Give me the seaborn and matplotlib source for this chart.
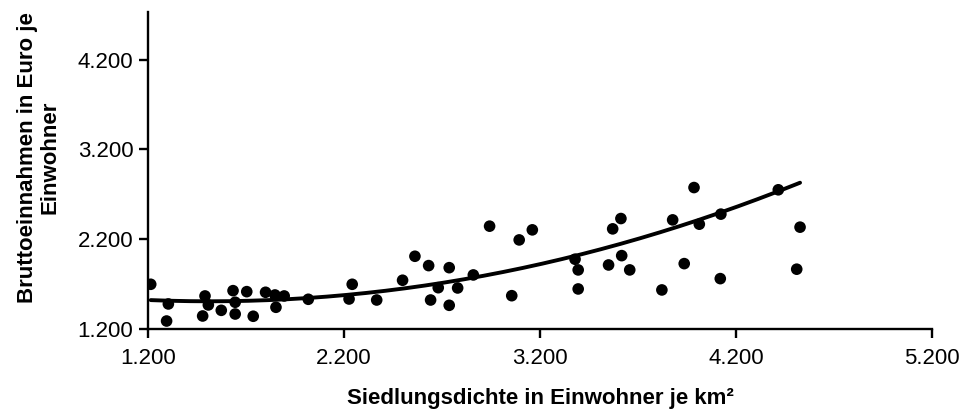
import numpy as np
import pandas as pd
import seaborn as sns
import matplotlib
import matplotlib.pyplot as plt

# Siedlungsdichte (Einwohner je km²) und Bruttoeinnahmen (Euro je Einwohner)
dichte = [1214, 1304, 1295, 1491, 1508, 1479, 1574, 1634, 1645, 1645, 1704, 1737,
          1800, 1848, 1853, 1895, 2018, 2226, 2242, 2367, 2499, 2562, 2632, 2642,
          2681, 2737, 2737, 2780, 2860, 2943, 3056, 3094, 3161, 3379, 3395, 3395,
          3550, 3571, 3613, 3617, 3658, 3822, 3877, 3936, 3986, 4013, 4120, 4123,
          4416, 4510, 4527]
einnahmen = [1698, 1479, 1289, 1568, 1468, 1345, 1408, 1627, 1498, 1367, 1616, 1342,
             1609, 1579, 1442, 1568, 1531, 1534, 1698, 1523, 1743, 2010, 1906, 1523,
             1660, 1883, 1464, 1657, 1802, 2345, 1571, 2192, 2304, 1977, 1858, 1646,
             1913, 2315, 2430, 2017, 1858, 1635, 2415, 1928, 2775, 2367, 1761, 2479,
             2750, 1866, 2334]

# polynomische Trendlinie (2. Ordnung, x in Tausend)
trend_coef = [145.5, -440.8, 1842.5]

df = pd.DataFrame({'dichte': dichte, 'einnahmen': einnahmen})
x_trend = np.linspace(min(dichte), max(dichte), 200)
df_trend = pd.DataFrame({'dichte': x_trend, 'einnahmen': np.polyval(trend_coef, x_trend / 1000)})

sns.set_style('white')
plt.rcParams['font.family'] = ['Liberation Sans', 'DejaVu Sans']
plt.rcParams.update({'text.color': 'black', 'axes.labelcolor': 'black',
                     'xtick.color': 'black', 'ytick.color': 'black'})

fig = plt.figure(figsize=(9.59, 4.15), dpi=100)
ax = fig.add_axes([0.1543, 0.2072, 0.8175, 0.764])

sns.scatterplot(x='dichte', y='einnahmen', data=df, ax=ax, s=70, color='black',
                edgecolor='none', zorder=3)
sns.lineplot(x='dichte', y='einnahmen', data=df_trend, ax=ax, color='black', lw=2.8,
             zorder=4)

ax.set_xlim(1200, 5200)
ax.set_ylim(1200, 4730)
ax.set_xticks([1200, 2200, 3200, 4200, 5200])
ax.set_yticks([1200, 2200, 3200, 4200])
fmt = lambda v, p: '{:.3f}'.format(v / 1000)
ax.xaxis.set_major_formatter(matplotlib.ticker.FuncFormatter(fmt))
ax.yaxis.set_major_formatter(matplotlib.ticker.FuncFormatter(fmt))

for s in ['top', 'right']:
    ax.spines[s].set_visible(False)
for s in ['left', 'bottom']:
    ax.spines[s].set_color('black')
    ax.spines[s].set_linewidth(1.7)

ax.tick_params(axis='x', direction='out', length=6.5, width=1.7, color='black',
               labelcolor='black', labelsize=16, pad=7, bottom=True)
ax.tick_params(axis='y', direction='out', length=6.5, width=1.7, color='black',
               labelcolor='black', labelsize=16, pad=4, left=True)

ax.set_xlabel('Siedlungsdichte in Einwohner je km²', fontsize=16, fontweight='bold',
              color='black')
ax.set_ylabel('Bruttoeinnahmen in Euro je\nEinwohner', fontsize=16, fontweight='bold',
              linespacing=1.1, color='black')
ax.xaxis.set_label_coords(0.5, -0.185)
ax.yaxis.set_label_coords(-0.112, 0.54)

fig.savefig('out.png', dpi=100)
